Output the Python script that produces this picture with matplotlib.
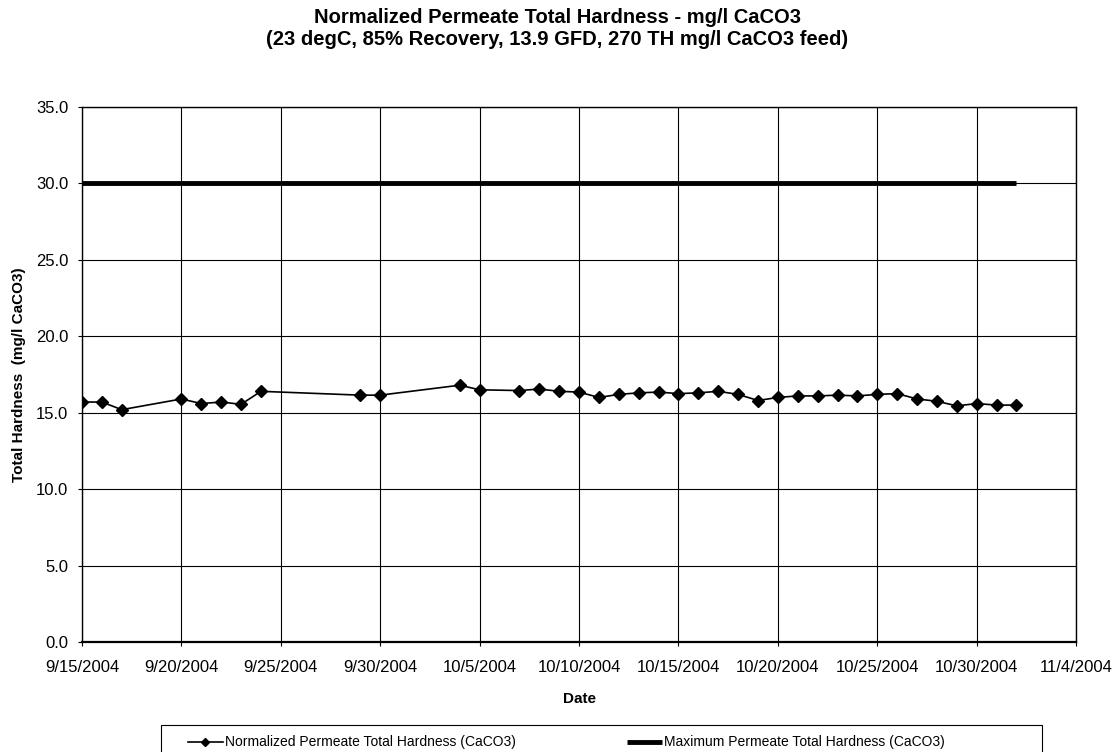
import matplotlib

matplotlib.use("Agg")

import matplotlib.pyplot as plt
import pandas as pd
from matplotlib.patches import Rectangle
from matplotlib.ticker import FormatStrFormatter

plt.rcParams["font.family"] = ["Liberation Sans", "DejaVu Sans"]

# daily normalized permeate total hardness, mg/l CaCO3
dates = pd.to_datetime([
    "2004-09-15", "2004-09-16", "2004-09-17", "2004-09-20", "2004-09-21",
    "2004-09-22", "2004-09-23", "2004-09-24", "2004-09-29", "2004-09-30",
    "2004-10-04", "2004-10-05", "2004-10-07", "2004-10-08", "2004-10-09",
    "2004-10-10", "2004-10-11", "2004-10-12", "2004-10-13", "2004-10-14",
    "2004-10-15", "2004-10-16", "2004-10-17", "2004-10-18", "2004-10-19",
    "2004-10-20", "2004-10-21", "2004-10-22", "2004-10-23", "2004-10-24",
    "2004-10-25", "2004-10-26", "2004-10-27", "2004-10-28", "2004-10-29",
    "2004-10-30", "2004-10-31", "2004-11-01",
])
hardness = [
    15.7, 15.7, 15.2, 15.9, 15.6,
    15.7, 15.55, 16.4, 16.15, 16.15,
    16.8, 16.5, 16.45, 16.55, 16.4,
    16.35, 16.0, 16.2, 16.3, 16.35,
    16.25, 16.3, 16.4, 16.2, 15.8,
    16.0, 16.1, 16.1, 16.15, 16.1,
    16.2, 16.25, 15.9, 15.75, 15.45,
    15.6, 15.5, 15.5,
]
max_hardness = 30.0
tick_dates = pd.date_range("2004-09-15", "2004-11-04", freq="5D")
y_ticks = [0, 5, 10, 15, 20, 25, 30, 35]

fig = plt.figure(figsize=(11.14, 7.52), dpi=100)
ax = fig.add_axes([0.0736, 0.146, 0.8924, 0.712])

ax.plot(dates, hardness, color="black", linewidth=1.2, marker="D",
        markersize=6.5, label="Normalized Permeate Total Hardness (CaCO3)")
ax.plot([dates[0], dates[-1]], [max_hardness, max_hardness], color="black",
        linewidth=3.5, solid_capstyle="butt",
        label="Maximum Permeate Total Hardness (CaCO3)")

ax.set_xlim(tick_dates[0], tick_dates[-1])
ax.set_ylim(0, 35)
ax.set_yticks(y_ticks)
ax.yaxis.set_major_formatter(FormatStrFormatter("%.1f"))
ax.set_xticks(tick_dates)
ax.set_xticklabels([f"{d.month}/{d.day}/{d.year}" for d in tick_dates])

ax.grid(True, color="black", linewidth=0.8)
ax.set_axisbelow(True)
for sp in ax.spines.values():
    sp.set_color("black")
    sp.set_linewidth(1.0)
ax.spines["bottom"].set_linewidth(1.6)
ax.tick_params(axis="both", direction="out", length=3, width=0.8,
               labelsize=12, colors="black")
ax.tick_params(axis="x", pad=10)
ax.tick_params(axis="y", pad=7)

ax.set_xlabel("Date", fontsize=11, fontweight="bold", labelpad=12)
ax.set_ylabel("Total Hardness  (mg/l CaCO3)", fontsize=11, fontweight="bold",
              labelpad=7)

fig.text(0.5, 0.977, "Normalized Permeate Total Hardness - mg/l CaCO3",
         ha="center", va="center", fontsize=14.5, fontweight="bold")
fig.text(0.5, 0.947, "(23 degC, 85% Recovery, 13.9 GFD, 270 TH mg/l CaCO3 feed)",
         ha="center", va="center", fontsize=14.5, fontweight="bold")

# legend box, Excel style (frame drawn separately)
fig.patches.append(Rectangle((0.1445, -0.02), 0.791, 0.0559,
                             transform=fig.transFigure, fill=False,
                             edgecolor="black", linewidth=0.8))
fig.legend(loc="upper left", bbox_to_anchor=(0.1688, 0.022),
           bbox_transform=fig.transFigure, ncol=2, fontsize=10,
           frameon=False, columnspacing=8.0, handlelength=2.5,
           handletextpad=0.15, borderpad=0, borderaxespad=0,
           markerscale=0.7)

fig.savefig("out.png", dpi=100)
